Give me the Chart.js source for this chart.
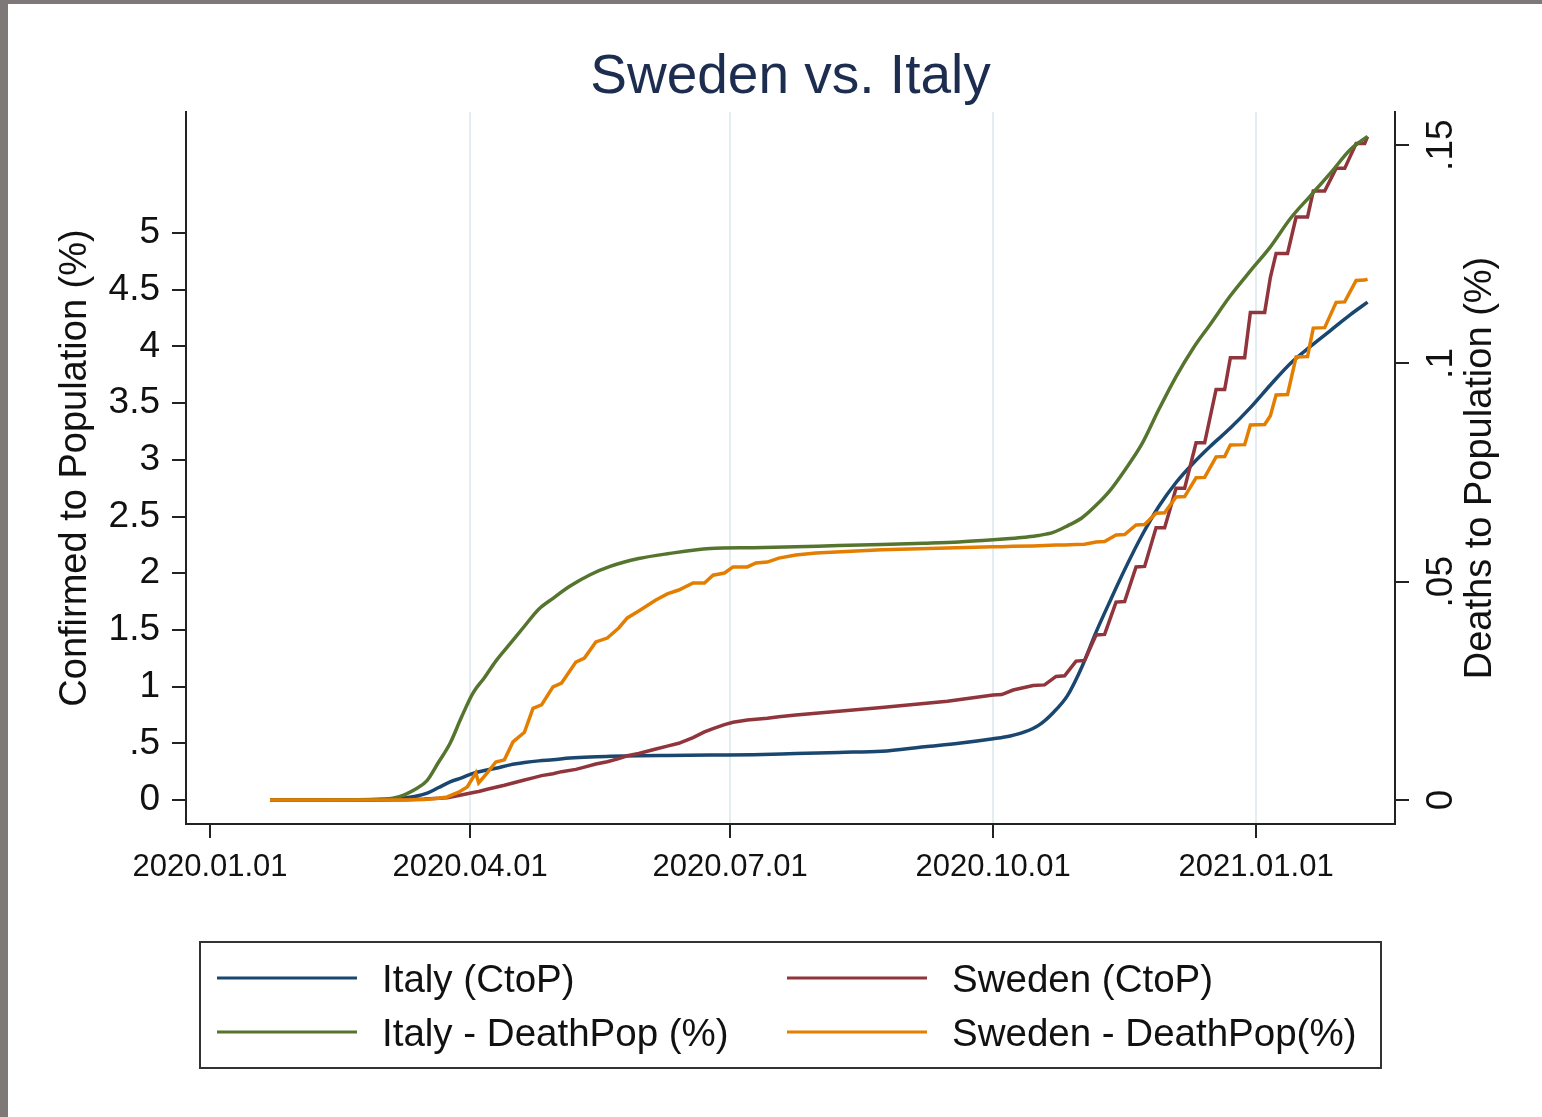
<!DOCTYPE html>
<html>
<head>
<meta charset="utf-8">
<script src="https://cdn.jsdelivr.net/npm/chart.js@4.4.1/dist/chart.umd.min.js"></script>
<style>
  html, body { margin: 0; padding: 0; background: #fff; }
  #frame {
    position: absolute; left: 0; top: 0;
    width: 1534px; height: 1113px;
    border-top: 4px solid #7f7878; border-left: 8px solid #7f7878;
    background: #fff;
  }
  canvas { display: block; }
</style>
</head>
<body>
<div id="frame"><canvas id="chart" width="1534" height="1113"></canvas></div>
<script>
// days since 2020-01-01
const italyDays = [21, 40, 60, 64, 68, 72, 76, 80, 84, 88, 92, 96, 100, 105, 110, 115, 120, 126, 133, 140,
  150, 160, 175, 190, 205, 220, 235, 250, 262, 274, 280, 285, 290, 295, 300, 305, 310, 315, 320, 326,
  332, 338, 344, 350, 357, 364, 371, 378, 385, 392, 399, 405];
const italyCtoP = [0, 0, 0.003, 0.008, 0.018, 0.033, 0.06, 0.11, 0.16, 0.195, 0.235, 0.26, 0.28, 0.31, 0.33, 0.345, 0.355, 0.37, 0.38, 0.385,
  0.39, 0.393, 0.397, 0.40, 0.41, 0.42, 0.43, 0.47, 0.50, 0.54, 0.565, 0.60, 0.66, 0.77, 0.92, 1.17, 1.48, 1.76, 2.03, 2.33,
  2.59, 2.80, 2.97, 3.12, 3.28, 3.46, 3.66, 3.85, 4.0, 4.14, 4.28, 4.39];
const italyDeathPop = [0, 0, 0.0002, 0.0004, 0.0012, 0.0025, 0.0045, 0.0087, 0.013, 0.019, 0.0245, 0.028, 0.0318, 0.0358, 0.0398, 0.0437, 0.0462, 0.049, 0.0516, 0.0535,
  0.0553, 0.0564, 0.0576, 0.0578, 0.058, 0.0583, 0.0585, 0.0588, 0.0591, 0.0596, 0.0599, 0.0602, 0.0606, 0.0613, 0.0628, 0.0646, 0.0675, 0.071, 0.0755, 0.0815,
  0.0895, 0.097, 0.1035, 0.109, 0.1155, 0.1212, 0.1267, 0.1332, 0.1384, 0.1436, 0.149, 0.152];

const swedenDays = [21, 60, 68, 75, 80, 83, 87, 90, 93, 94, 97, 100, 103, 106, 110, 113, 116, 120, 123, 128,
  131, 135, 139, 143, 146, 150, 156, 160, 164, 169, 173, 176, 180, 183, 188, 191, 195, 199, 205, 212,
  235, 258, 274, 277, 281, 288, 292, 296, 299, 303, 306, 310, 313, 317, 320, 324, 327, 331, 334, 338,
  341, 345, 348, 352, 355, 357, 362, 364, 369, 371, 373, 377, 380, 384, 386, 390, 394, 397, 401, 404, 405];
const swedenCtoP = [0, 0, 0.003, 0.008, 0.015, 0.02, 0.04, 0.055, 0.07, 0.075, 0.095, 0.113, 0.13, 0.15, 0.176, 0.195, 0.215, 0.232, 0.25, 0.27,
  0.29, 0.318, 0.338, 0.365, 0.39, 0.41, 0.45, 0.475, 0.50, 0.55, 0.60, 0.63, 0.665, 0.685, 0.705, 0.712, 0.72, 0.735, 0.75, 0.765,
  0.815, 0.87, 0.925, 0.93, 0.97, 1.01, 1.015, 1.09, 1.095, 1.225, 1.23, 1.455, 1.46, 1.745, 1.75, 2.055, 2.06, 2.40, 2.40, 2.75,
  2.75, 3.15, 3.15, 3.62, 3.62, 3.90, 3.90, 4.30, 4.30, 4.61, 4.82, 4.82, 5.14, 5.14, 5.37, 5.37, 5.57, 5.57, 5.79, 5.79, 5.85];
const swedenDeathPop = [0, 0, 0, 0.0001, 0.0004, 0.0007, 0.0018, 0.003, 0.0062, 0.0039, 0.0062, 0.0087, 0.0092, 0.0133, 0.0155, 0.021, 0.0218, 0.0259, 0.0268, 0.0316,
  0.0325, 0.0362, 0.0371, 0.0394, 0.0417, 0.0433, 0.0458, 0.0472, 0.0481, 0.0497, 0.0497, 0.0515, 0.052, 0.0534, 0.0534, 0.0543, 0.0545, 0.0554, 0.0561, 0.0566,
  0.0573, 0.0577, 0.058, 0.058, 0.0581, 0.0582, 0.0583, 0.0584, 0.0584, 0.0585, 0.0586, 0.0591, 0.0592, 0.0607, 0.0608, 0.063, 0.0631, 0.0657, 0.0658, 0.0694,
  0.0695, 0.0738, 0.0739, 0.0786, 0.0787, 0.0813, 0.0814, 0.0859, 0.086, 0.088, 0.0928, 0.0929, 0.1015, 0.1016, 0.1081, 0.1082, 0.114, 0.1141, 0.119, 0.1191, 0.1193];

const xTickDays = [0, 91, 182, 274, 366];
const xTickLabels = ["2020.01.01", "2020.04.01", "2020.07.01", "2020.10.01", "2021.01.01"];
const leftTicks = [0, 0.5, 1, 1.5, 2, 2.5, 3, 3.5, 4, 4.5, 5];
const rightTicks = [0, 0.05, 0.1, 0.15];

const FONT = "'Liberation Sans', Arial, sans-serif";
const INK = "#111";
const AXIS = "#222";

function points(xs, ys) {
  return xs.map((x, i) => ({ x: x, y: ys[i] }));
}

// stata style number: .5 instead of 0.5
function stataNum(v) {
  if (v === 0) return "0";
  return String(+v.toFixed(3)).replace(/^0\./, ".");
}

function line(label, xs, ys, color, axis, order, smooth) {
  return {
    label: label,
    data: points(xs, ys),
    borderColor: color,
    backgroundColor: color,
    borderWidth: 3.5,
    pointRadius: 0,
    tension: smooth ? 0.4 : 0,
    cubicInterpolationMode: smooth ? "monotone" : "default",
    fill: false,
    yAxisID: axis,
    order: order,
  };
}

const stataExtras = {
  id: "stataExtras",
  afterDraw(chart) {
    const { ctx, chartArea } = chart;
    const y2 = chart.scales.y2;
    ctx.save();

    // title
    ctx.fillStyle = "#1c2d4f";
    ctx.font = `55px ${FONT}`;
    ctx.textAlign = "center";
    ctx.textBaseline = "middle";
    ctx.fillText("Sweden vs. Italy", (chartArea.left + chartArea.right) / 2, 74);

    // right axis labels, rotated like the reference
    ctx.fillStyle = INK;
    ctx.font = `37px ${FONT}`;
    rightTicks.forEach((v) => {
      const py = y2.getPixelForValue(v);
      ctx.save();
      ctx.translate(chartArea.right + 47, py);
      ctx.rotate(-Math.PI / 2);
      ctx.fillText(stataNum(v), 0, 0);
      ctx.restore();
    });
    ctx.font = `38px ${FONT}`;
    ctx.save();
    ctx.translate(chartArea.right + 86, (chartArea.top + chartArea.bottom) / 2);
    ctx.rotate(-Math.PI / 2);
    ctx.fillText("Deaths to Population (%)", 0, 0);
    ctx.restore();

    // legend box
    const box = { left: 192, top: 938, right: 1373, bottom: 1064 };
    ctx.strokeStyle = "#333";
    ctx.lineWidth = 2;
    ctx.strokeRect(box.left, box.top, box.right - box.left, box.bottom - box.top);
    const cols = [209, 779];
    const rows = [974, 1028];
    ctx.textAlign = "left";
    ctx.font = `38.5px ${FONT}`;
    chart.data.datasets.forEach((ds, i) => {
      const cx = cols[i % 2];
      const cy = rows[Math.floor(i / 2)];
      ctx.strokeStyle = ds.borderColor;
      ctx.lineWidth = 3;
      ctx.beginPath();
      ctx.moveTo(cx, cy);
      ctx.lineTo(cx + 140, cy);
      ctx.stroke();
      ctx.fillStyle = INK;
      ctx.fillText(ds.label, cx + 165, cy + 3);
    });
    ctx.restore();
  },
};

new Chart(document.getElementById("chart"), {
  type: "line",
  data: {
    datasets: [
      line("Italy (CtoP)", italyDays, italyCtoP, "#1a476f", "y", 3, true),
      line("Sweden (CtoP)", swedenDays, swedenCtoP, "#90353b", "y", 2, false),
      line("Italy - DeathPop (%)", italyDays, italyDeathPop, "#55752f", "y2", 1, true),
      line("Sweden - DeathPop(%)", swedenDays, swedenDeathPop, "#e37e00", "y2", 0, false),
    ],
  },
  options: {
    responsive: false,
    animation: false,
    devicePixelRatio: 1,
    events: [],
    layout: { padding: { top: 108, bottom: 193, left: 0, right: 0 } },
    plugins: { legend: { display: false }, tooltip: { enabled: false }, title: { display: false } },
    scales: {
      x: {
        type: "linear",
        min: -8.4,
        max: 414.6,
        afterBuildTicks: (s) => { s.ticks = xTickDays.map((v) => ({ value: v })); },
        afterFit: (s) => { s.height = 100; },
        ticks: {
          callback: (v, i) => xTickLabels[i],
          font: { family: FONT, size: 31 },
          color: INK,
          padding: 11,
          maxRotation: 0,
          autoSkip: false,
        },
        grid: {
          color: (c) => (c.tick && c.tick.value === 0 ? "rgba(0,0,0,0)" : "#e2edf1"),
          lineWidth: 2,
          tickColor: AXIS,
          tickLength: 14,
        },
        border: { display: true, color: AXIS, width: 2 },
      },
      y: {
        type: "linear",
        position: "left",
        min: -0.2116,
        max: 6.067,
        afterBuildTicks: (s) => { s.ticks = leftTicks.map((v) => ({ value: v })); },
        afterFit: (s) => { s.width = 178; },
        ticks: {
          callback: (v) => stataNum(v),
          font: { family: FONT, size: 37 },
          color: INK,
          padding: 12,
        },
        grid: { drawOnChartArea: false, tickColor: AXIS, tickLength: 14, lineWidth: 2 },
        border: { display: true, color: AXIS, width: 2 },
        title: {
          display: true,
          text: "Confirmed to Population (%)",
          font: { family: FONT, size: 38 },
          color: INK,
          padding: { top: 45, bottom: 0 },
        },
      },
      y2: {
        type: "linear",
        position: "right",
        min: -0.0055,
        max: 0.1576,
        afterBuildTicks: (s) => { s.ticks = rightTicks.map((v) => ({ value: v })); },
        afterFit: (s) => { s.width = 147; },
        ticks: { display: false },
        grid: { drawOnChartArea: false, tickColor: AXIS, tickLength: 14, lineWidth: 2 },
        border: { display: true, color: AXIS, width: 2 },
      },
    },
  },
  plugins: [stataExtras],
});
</script>
</body>
</html>
